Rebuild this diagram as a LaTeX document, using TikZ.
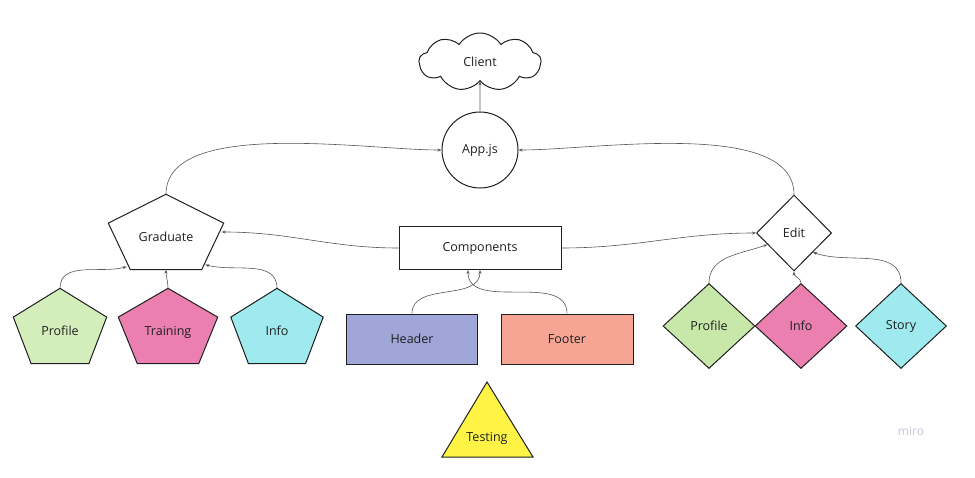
\documentclass[tikz,border=0pt]{standalone}
\usepackage{fontspec}
\setmainfont{Open Sans}
\usepackage{tikz}
\usetikzlibrary{shapes.geometric, shapes.symbols, arrows.meta, positioning, calc, backgrounds}
\definecolor{gradgreen}{HTML}{D4EEBB}
\definecolor{editgreen}{HTML}{C7E8A8}
\definecolor{pinkfill}{HTML}{EA7FB0}
\definecolor{cyanfill}{HTML}{9EEAEE}
\definecolor{headfill}{HTML}{A0A6D7}
\definecolor{footfill}{HTML}{F6A594}
\definecolor{testfill}{HTML}{FFF445}
\definecolor{linegray}{HTML}{555555}
\definecolor{mirogray}{HTML}{C4C6D8}
\tikzset{
  base/.style={font=\fontsize{12.5}{15}\selectfont,text=black!88,inner sep=0pt},
  outline/.style={draw=black!88,line width=1pt},
  box/.style={base,outline,rectangle},
  diam/.style={base,outline,diamond,aspect=1},
  circ/.style={base,outline,circle,minimum size=76pt},
  cloudbox/.style={base,outline,cloud,cloud puffs=9,cloud puff arc=115,
    cloud ignores aspect,minimum width=122pt,minimum height=58pt},
  pentbox/.style={base,rectangle,minimum height=75pt,text height=19pt,text depth=0pt},
  arrow/.style={-{Stealth[length=4pt,width=3pt]},line width=0.6pt,draw=linegray}
}
% pentagon drawn round a named box node
\newcommand{\pentfill}[2]{%
  \draw[outline,fill=#2] (#1.north)
    -- ($(#1.north east)!0.382!(#1.south east)$)
    -- ($(#1.south west)!0.809!(#1.south east)$)
    -- ($(#1.south west)!0.191!(#1.south east)$)
    -- ($(#1.north west)!0.382!(#1.south west)$) -- cycle;}

\begin{document}
\begin{tikzpicture}[x=1pt,y=-1pt]
  \useasboundingbox (0,0) rectangle (975,477);
  % top
  \node[cloudbox] (client) at (480,62) {Client};
  \node[circ] (app) at (480,150) {App.js};
  \node[box,minimum width=162pt,minimum height=43pt] (comp) at (480,248) {Components};

  % graduate side
  \node[pentbox,minimum width=115pt] (grad) at (166,232) {Graduate};
  \node[pentbox,minimum width=93pt] (gprof) at (60,326) {Profile};
  \node[pentbox,minimum width=99pt] (gtrain) at (168,326) {Training};
  \node[pentbox,minimum width=92pt] (ginfo) at (277,326) {Info};

  % edit side
  \node[diam,minimum width=75pt,minimum height=76pt] (edit) at (794,233) {Edit};
  \node[diam,fill=editgreen,minimum width=92pt,minimum height=85pt] (eprof) at (709,326) {Profile};
  \node[diam,fill=pinkfill,minimum width=92pt,minimum height=85pt] (einfo) at (801,326) {Info};
  \node[diam,fill=cyanfill,minimum width=91pt,minimum height=85pt] (estory) at (901,326) {Story};

  % components
  \node[box,fill=headfill,minimum width=131pt,minimum height=50pt] (header) at (412,339) {Header};
  \node[box,fill=footfill,minimum width=132pt,minimum height=50pt] (footer) at (567,339) {Footer};
  \node[base] (testing) at (487,438) {Testing};

  \node[base,font=\fontsize{12}{14}\selectfont,text=mirogray] (miro) at (911,431) {miro};

  \begin{scope}[on background layer]
    \pentfill{grad}{white}
    \pentfill{gprof}{gradgreen}
    \pentfill{gtrain}{pinkfill}
    \pentfill{ginfo}{cyanfill}
    \draw[outline,fill=testfill] (487,382) -- (533,457) -- (442,457) -- cycle;
  \end{scope}

  \draw[arrow] (app) -- (client);
  \draw[arrow] (grad.north) to[out=90,in=180,looseness=0.7] (app.west);
  \draw[arrow] (edit.north) to[out=90,in=0,looseness=0.7] (app.east);
  \draw[arrow] (comp.west) to[out=180,in=0] ($(grad.north east)!0.5!(grad.south east)+(-2,0)$);
  \draw[arrow] (comp.east) to[out=0,in=180] (edit.west);
  \draw[arrow] (gprof.north) to[out=90,in=195] ($(grad.south west)!0.16!(grad.south east)+(0,-3)$);
  \draw[arrow] (gtrain.north) to[out=90,in=-90] (grad.south);
  \draw[arrow] (ginfo.north) to[out=90,in=-15] ($(grad.south west)!0.84!(grad.south east)+(0,-5)$);
  \draw[arrow] (eprof.north) to[out=90,in=200] ($(edit.west)!0.3!(edit.south)$);
  \draw[arrow] (einfo.north) to[out=90,in=-90] (edit.south);
  \draw[arrow] (estory.north) to[out=90,in=-20] ($(edit.east)!0.5!(edit.south)$);
  \draw[arrow] (header.north) to[out=90,in=-90] (comp.south);
  \draw[arrow] (footer.north) to[out=90,in=-90] ($(comp.south)+(-12,0)$);
\end{tikzpicture}
\end{document}
